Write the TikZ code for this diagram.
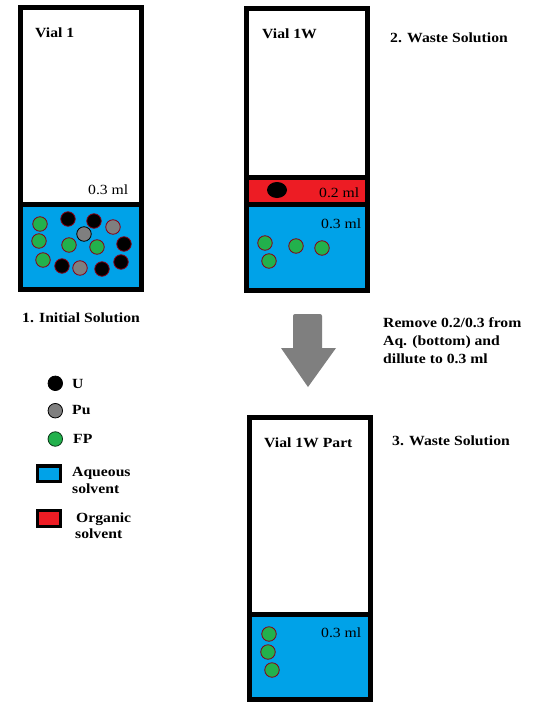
\documentclass[tikz,border=0pt]{standalone}
\usepackage{fontspec}
\usetikzlibrary{shapes.geometric}
\setmainfont{Liberation Serif}[FakeStretch=1.12]
\definecolor{aq}{HTML}{00A2E8}
\definecolor{org}{HTML}{ED1C24}
\definecolor{fp}{HTML}{22B14C}
\definecolor{pu}{HTML}{7F7F7F}
\definecolor{rim}{HTML}{880015}
\tikzset{
  lbl/.style={font=\fontsize{14}{17}\selectfont\bfseries, anchor=base west, inner sep=0pt},
  vol/.style={font=\fontsize{14}{17}\selectfont, anchor=base west, inner sep=0pt},
  vialwall/.style={draw=black, line width=5pt},
  particle/.style={circle, minimum size=14.5pt, inner sep=0pt, draw=rim, line width=0.8pt},
  uP/.style={particle, fill=black},
  puP/.style={particle, fill=pu},
  fpP/.style={particle, fill=fp},
  keybox/.style={draw=black, line width=3.5pt},
}
\begin{document}
\begin{tikzpicture}[x=1pt,y=-1pt]
\useasboundingbox[fill=white] (0,0) rectangle (538,707);

% ---------- Vial 1 ----------
\fill[aq] (20.5,204.5) rectangle (141.5,289.5);
\draw[vialwall] (20.5,7.5) rectangle (141.5,289.5);
\draw[vialwall] (20.5,204.5) -- (141.5,204.5);
\node[lbl] (v1) at (35,37) {Vial 1};
\node[vol] (v1aq) at (88,194) {0.3 ml};
\foreach \p [count=\i] in {(40,224),(39,241),(69,245),(97,247),(43,260)}
  \node[fpP] (v1f\i) at \p {};
\foreach \p [count=\i] in {(68,219),(94,221),(124,244),(62,266),(102,269),(121,262)}
  \node[uP] (v1u\i) at \p {};
\node[puP] (v1p1) at (113,227) {};
\node[puP, draw=black] (v1p2) at (84,234) {};
\node[puP] (v1p3) at (80,268) {};
\node[lbl] (cap1) at (22,322) {1. Initial Solution};

% ---------- Vial 1W ----------
\fill[org] (246.5,177.5) rectangle (367.5,204.5);
\fill[aq] (246.5,204.5) rectangle (367.5,290.5);
\draw[vialwall] (246.5,8.5) rectangle (367.5,290.5);
\draw[vialwall] (246.5,177.5) -- (367.5,177.5);
\draw[vialwall] (246.5,204.5) -- (367.5,204.5);
\node[lbl] (v2) at (262,38) {Vial 1W};
\node[vol] (v2org) at (319,197) {0.2 ml};
\node[vol] (v2aq) at (321,228) {0.3 ml};
\node[ellipse, fill=black, minimum width=20pt, minimum height=16pt, inner sep=0pt] (v2u) at (277,190) {};
\foreach \p [count=\i] in {(265,243),(296,246),(322,248),(269,261)}
  \node[fpP] (v2f\i) at \p {};
\node[lbl] (cap2) at (390,42.5) {2. Waste Solution};

% ---------- Arrow and instruction ----------
\fill[pu] (281,348) -- (293,348) [rounded corners=2pt] -- (293,314) -- (322,314) [sharp corners] -- (322,348) -- (336,348) -- (308,387) -- cycle;
\node[lbl] (rm1) at (383,327.7) {Remove 0.2/0.3 from};
\node[lbl] (rm2) at (383,345.5) {Aq. (bottom) and};
\node[lbl] (rm3) at (383,363) {dillute to 0.3 ml};

% ---------- Vial 1W Part ----------
\fill[aq] (249.5,614.5) rectangle (370.5,699.5);
\draw[vialwall] (249.5,417.5) rectangle (370.5,699.5);
\draw[vialwall] (249.5,614.5) -- (370.5,614.5);
\node[lbl] (v3) at (264,447) {Vial 1W Part};
\node[vol] (v3aq) at (321,637) {0.3 ml};
\foreach \p [count=\i] in {(269,634),(268,652),(272,670)}
  \node[fpP] (v3f\i) at \p {};
\node[lbl] (cap3) at (392,445) {3. Waste Solution};

% ---------- Legend ----------
\node[uP, draw=black] (kU) at (55.3,383.3) {};
\node[puP, draw=black] (kPu) at (55.3,410.7) {};
\node[fpP, draw=black!70!fp] (kFP) at (55.3,439) {};
\node[lbl] (tU) at (72,388) {U};
\node[lbl] (tPu) at (72,414.5) {Pu};
\node[lbl] (tFP) at (73,443) {FP};
\draw[keybox, fill=aq] (37.7,466) rectangle (60.5,481.5);
\node[lbl] (tAq1) at (72,476) {Aqueous};
\node[lbl] (tAq2) at (72,493) {solvent};
\draw[keybox, fill=org] (37.7,510.7) rectangle (60.5,526.5);
\node[lbl] (tOr1) at (76,522) {Organic};
\node[lbl] (tOr2) at (75,538) {solvent};
\end{tikzpicture}
\end{document}
